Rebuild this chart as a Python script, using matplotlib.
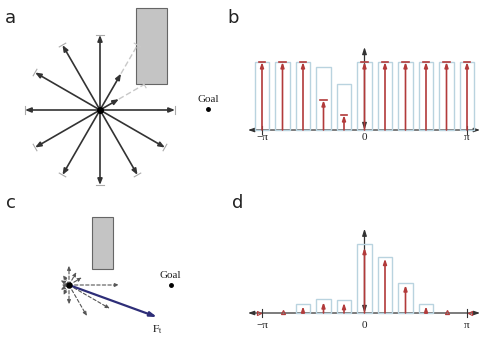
import numpy as np
import matplotlib
import matplotlib.pyplot as plt

matplotlib.use("Agg")
plt.rcParams["mathtext.fontset"] = "stix"

# panel a: candidate directions (deg) and free length before the obstacle
dir_deg = [0, 30, 60, 90, 120, 150, 180, 210, 240, 270, 300, 330]
len_a = [1.0, 0.29, 0.56, 1.0, 1.0, 1.0, 1.0, 1.0, 1.0, 1.0, 1.0, 1.0]
blocked_a = {30: 0.68, 60: 1.0}
obst_a = (0.48, 0.347, 0.413, 1.013)   # x, y, w, h
goal_a = (1.44, 0.013)

# panel c: weighted direction lengths and resulting force
len_c = [0.67, 0.2, 0.2, 0.26, 0.16, 0.13, 0.1, 0.13, 0.16, 0.26, 0.48, 0.63]
obst_c = (0.307, 0.213, 0.28, 0.694)
goal_c = (1.36, 0.0)
force_c = (1.173, -0.427)

# panels b, d: histogram over heading
bins = np.linspace(-np.pi, np.pi, 11)
bar_b = [1, 1, 1, 0.93, 0.68, 1, 1, 1, 1, 1, 1]
arr_b = [1, 1, 1, 0.44, 0.22, 1, 1, 1, 1, 1, 1]
bar_d = [0, 0, 0.13, 0.2, 0.19, 1.01, 0.82, 0.44, 0.13, 0, 0]
arr_d = [0, 0.04, 0.1, 0.16, 0.15, 0.96, 0.8, 0.41, 0.1, 0.04, 0]

DARK = "#333333"
RED = "#b23a3a"
BLUE = "#b9d3df"
NAVY = "#2e2e78"
SERIF = ["Liberation Serif", "DejaVu Serif"]


def arrow(ax, x0, y0, x1, y1, color=DARK, lw=1.0, ls="-", hw=0.14, hl=0.35):
    ax.annotate("", xy=(x1, y1), xytext=(x0, y0), annotation_clip=False,
                arrowprops=dict(arrowstyle=f"-|>,head_length={hl},head_width={hw}",
                                color=color, lw=lw, ls=ls,
                                shrinkA=0, shrinkB=0))


def blank(ax):
    ax.set_axis_off()


fig = plt.figure(figsize=(4.81, 3.38), dpi=100)

# ---------- a ----------
ax = fig.add_axes([0, 168 / 338, 240 / 481, 170 / 338])
blank(ax)
ax.set_xlim(-100 / 75, 140 / 75)
ax.set_ylim(-60 / 75, 110 / 75)
ax.add_patch(plt.Rectangle(obst_a[:2], obst_a[2], obst_a[3],
                           fc="#c4c4c4", ec="#666666", lw=0.8, zorder=2))
for d, L in zip(dir_deg, len_a):
    t = np.radians(d)
    ux, uy = np.cos(t), np.sin(t)
    if d in blocked_a:
        Lb = blocked_a[d]
        ax.plot([L * ux, Lb * ux], [L * uy, Lb * uy], color="#c8c8c8",
                lw=1.0, ls=(0, (4, 2)), zorder=3)
        ax.plot([Lb * ux - 0.05 * uy, Lb * ux + 0.05 * uy],
                [Lb * uy + 0.05 * ux, Lb * uy - 0.05 * ux],
                color="#c8c8c8", lw=0.8, zorder=3)
    else:
        ax.plot([L * ux - 0.05 * uy, L * ux + 0.05 * uy],
                [L * uy + 0.05 * ux, L * uy - 0.05 * ux],
                color="#aaaaaa", lw=0.8, zorder=3, clip_on=False)
    arrow(ax, 0, 0, L * ux, L * uy, lw=1.2)
ax.plot(0, 0, "o", color="black", ms=4, zorder=5)
ax.plot(*goal_a, "o", color="black", ms=2.5)
ax.text(goal_a[0], goal_a[1] + 0.07, "Goal", ha="center", va="bottom",
        fontsize=8, family=SERIF, color="#222222")

# ---------- c ----------
ax = fig.add_axes([0, 0, 240 / 481, 168 / 338])
blank(ax)
ax.set_xlim(-69 / 75, 171 / 75)
ax.set_ylim(-53 / 75, 115 / 75)
ax.add_patch(plt.Rectangle(obst_c[:2], obst_c[2], obst_c[3],
                           fc="#c4c4c4", ec="#666666", lw=0.8, zorder=2))
for d, L in zip(dir_deg, len_c):
    t = np.radians(d)
    arrow(ax, 0, 0, L * np.cos(t), L * np.sin(t), color="#555555",
          lw=0.8, ls=(0, (3, 2)), hw=0.1, hl=0.25)
arrow(ax, 0, 0, *force_c, color=NAVY, lw=1.6, hw=0.13, hl=0.4)
ax.plot(0, 0, "o", color="black", ms=3.5, zorder=5)
ax.plot(*goal_c, "o", color="black", ms=2.5)
ax.text(goal_c[0] - 0.01, goal_c[1] + 0.07, "Goal", ha="center", va="bottom",
        fontsize=8, family=SERIF, color="#222222")
ax.text(force_c[0] + 0.01, force_c[1] - 0.08, r"$\mathrm{F_t}$", ha="center",
        va="top", fontsize=8, color="#222222")


# ---------- b, d ----------
def hist_panel(rect, ylim, bars, arrs, ytop, lab_off, caps):
    ax = fig.add_axes(rect)
    blank(ax)
    k = 205 / (2 * np.pi)
    ax.set_xlim(-np.pi - 22 / k, np.pi + 14 / k)
    ax.set_ylim(*ylim)
    w = 0.43
    for x, h in zip(bins, bars):
        if h > 0:
            ax.add_patch(plt.Rectangle((x - w / 2, 0), w, h, fc="none",
                                       ec=BLUE, lw=1.0, zorder=2))
    ax.annotate("", xy=(np.pi + 0.4, 0), xytext=(-np.pi - 0.43, 0),
                arrowprops=dict(arrowstyle="<|-|>,head_length=0.35,head_width=0.12",
                                color=DARK, lw=0.9, shrinkA=0, shrinkB=0),
                zorder=1, annotation_clip=False)
    ax.annotate("", xy=(0, ytop), xytext=(0, 0),
                arrowprops=dict(arrowstyle="<|-|>,head_length=0.4,head_width=0.13",
                                color=DARK, lw=0.9, shrinkA=0, shrinkB=0),
                zorder=1, annotation_clip=False)
    for x in (-np.pi, np.pi):
        ax.plot([x, x], [-0.06, 0.06], color=DARK, lw=0.8)
    for x, h in zip(bins, arrs):
        if h >= 0.08:
            arrow(ax, x, 0, x, h, color=RED, lw=1.2, hw=0.1, hl=0.3)
            if caps:
                ax.plot([x - 0.1, x + 0.1], [h, h], color=RED, lw=1.2)
        elif h > 0:
            ax.plot(x, h / 2, marker="^", color=RED, ms=3, mfc="none", mew=0.8)
    for x, s in zip((-np.pi, 0, np.pi), ("\u2212\u03c0", "0", "\u03c0")):
        ax.text(x, -lab_off, s, ha="center", va="top", fontsize=8,
                family=SERIF, color="#222222")
    return ax


hist_panel([240 / 481, 168 / 338, 241 / 481, 170 / 338],
           (-40 / 68, 130 / 68), bar_b, arr_b, 1.22, 0.05, True)
axd = hist_panel([240 / 481, 0, 241 / 481, 168 / 338],
                 (-25 / 68, 143 / 68), bar_d, arr_d, 1.24, 0.12, False)
axd.plot([-np.pi - 0.1], [0], marker=">", color=RED, ms=3, mfc="none", mew=0.8)
axd.plot([np.pi + 0.1], [0], marker="<", color=RED, ms=3, mfc="none", mew=0.8)

for s, x, y in (("a", 10, 18), ("b", 233, 18), ("c", 11, 203), ("d", 238, 203)):
    fig.text(x / 481, 1 - y / 338, s, ha="center", va="center", fontsize=13,
             family="DejaVu Sans", color="#222222")

fig.savefig("out.png", dpi=100)
